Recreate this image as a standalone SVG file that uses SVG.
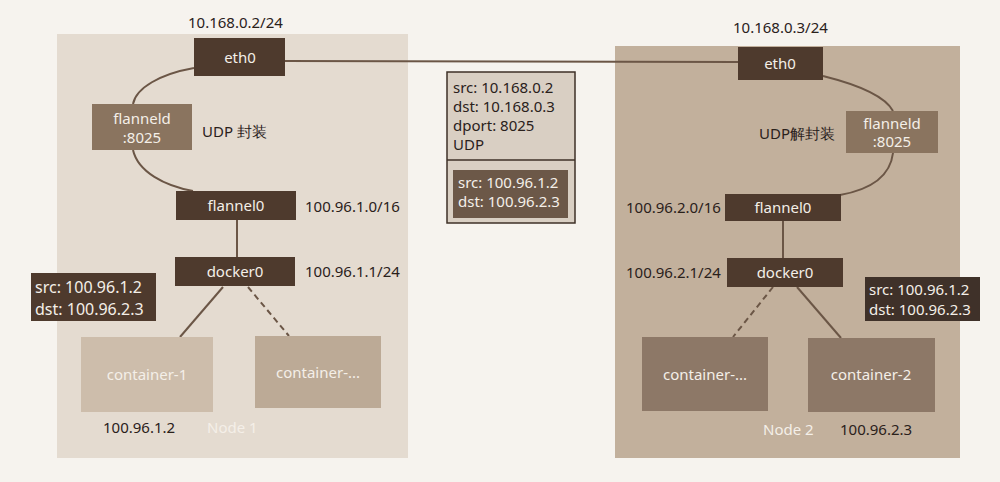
<svg xmlns="http://www.w3.org/2000/svg" width="1000" height="482" viewBox="0 0 1000 482">
<style>
text{font-family:"Noto Sans","Open Sans","Liberation Sans",sans-serif;font-size:15px;fill:#2a211b}
.w{fill:#f4efe8}
.c{text-anchor:middle}
.dk{fill:#4e3a2d}
.md{fill:#8a745f}
.ln{stroke:#6b5646;stroke-width:2;fill:none}
.ct{font-size:16px}
</style>
<rect width="1000" height="482" fill="#f6f3ee"/>
<g id="node1-panel"><rect x="57" y="34" width="351" height="424" fill="#e4dbd0"/><text class="w" x="207" y="433">Node 1</text></g>
<g id="node2-panel"><rect x="615" y="46" width="345" height="412" fill="#c2b09c"/><text class="w" x="763" y="435">Node 2</text></g>
<g id="connectors">
<line class="ln" x1="285" y1="61" x2="738" y2="62" stroke-width="1.5"/>
<path class="ln" d="M194,68 C160,74 136,88 133,104"/>
<path class="ln" d="M133,150 C138,172 165,186 193,191"/>
<line class="ln" x1="237" y1="220" x2="237" y2="257"/>
<line class="ln" x1="223" y1="287" x2="180" y2="337"/>
<line class="ln" x1="248" y1="287" x2="289" y2="336" stroke-dasharray="6,4"/>
<path class="ln" d="M823,76 C855,84 885,96 893,111"/>
<path class="ln" d="M893,153 C890,178 868,190 840,195"/>
<line class="ln" x1="783" y1="221" x2="783" y2="258"/>
<line class="ln" x1="773" y1="287" x2="733" y2="337" stroke-dasharray="6,4"/>
<line class="ln" x1="797" y1="287" x2="841" y2="338"/>
</g>
<g id="eth0-1"><rect class="dk" x="194" y="38" width="91" height="38"/><text class="w c" x="240" y="63">eth0</text></g>
<g id="ip-eth0-1"><text x="188" y="28">10.168.0.2/24</text></g>
<g id="flanneld-1"><rect class="md" x="92" y="104" width="100" height="46"/><text class="w c" x="142" y="124">flanneld</text><text class="w c" x="142" y="143">:8025</text></g>
<g id="udp-enc"><text x="202" y="137">UDP 封装</text></g>
<g id="flannel0-1"><rect class="dk" x="176" y="191" width="120" height="29"/><text class="w c" x="236" y="211">flannel0</text><text x="305" y="212">100.96.1.0/16</text></g>
<g id="docker0-1"><rect class="dk" x="175" y="257" width="120" height="29"/><text class="w c" x="235" y="277">docker0</text><text x="305" y="277">100.96.1.1/24</text></g>
<g id="pkt-1"><rect class="dk" x="31" y="273" width="125" height="48"/><text class="w ct" x="35" y="293">src: 100.96.1.2</text><text class="w ct" x="35" y="315">dst: 100.96.2.3</text></g>
<g id="container-1"><rect x="81" y="337" width="132" height="75" fill="#cdbdab"/><text class="w c" x="147" y="380">container-1</text><text x="103" y="433">100.96.1.2</text></g>
<g id="container-n1"><rect x="255" y="336" width="126" height="72" fill="#bcaa96"/><text class="w c" x="318" y="378">container-...</text></g>
<g id="packet-mid"><rect x="447" y="72" width="128" height="151" fill="#d9cfc3" stroke="#3e3027" stroke-width="1.5"/><line x1="447" y1="160" x2="575" y2="160" stroke="#3e3027" stroke-width="1.5"/><text x="453" y="93">src: 10.168.0.2</text><text x="453" y="112">dst: 10.168.0.3</text><text x="453" y="131">dport: 8025</text><text x="453" y="150">UDP</text><rect x="453" y="170" width="115" height="48" fill="#6c5848"/><text class="w" x="458" y="188">src: 100.96.1.2</text><text class="w" x="458" y="207">dst: 100.96.2.3</text></g>
<g id="eth0-2"><rect class="dk" x="738" y="47" width="85" height="33"/><text class="w c" x="780" y="69">eth0</text></g>
<g id="ip-eth0-2"><text x="733" y="33">10.168.0.3/24</text></g>
<g id="flanneld-2"><rect class="md" x="846" y="111" width="92" height="42"/><text class="w c" x="892" y="129">flanneld</text><text class="w c" x="892" y="147">:8025</text></g>
<g id="udp-dec"><text x="759" y="139">UDP解封装</text></g>
<g id="flannel0-2"><rect class="dk" x="725" y="194" width="116" height="27"/><text class="w c" x="783" y="213">flannel0</text><text x="626" y="213">100.96.2.0/16</text></g>
<g id="docker0-2"><rect class="dk" x="727" y="258" width="116" height="29"/><text class="w c" x="785" y="278">docker0</text><text x="626" y="278">100.96.2.1/24</text></g>
<g id="pkt-2"><rect x="865" y="277" width="115" height="44" fill="#3f3129"/><text class="w" x="869" y="295">src: 100.96.1.2</text><text class="w" x="869" y="315">dst: 100.96.2.3</text></g>
<g id="container-n2"><rect x="642" y="337" width="126" height="74" fill="#8d7867"/><text class="w c" x="705" y="380">container-...</text></g>
<g id="container-2"><rect x="808" y="338" width="127" height="74" fill="#8d7867"/><text class="w c" x="871" y="380">container-2</text><text x="840" y="435">100.96.2.3</text></g>
</svg>
